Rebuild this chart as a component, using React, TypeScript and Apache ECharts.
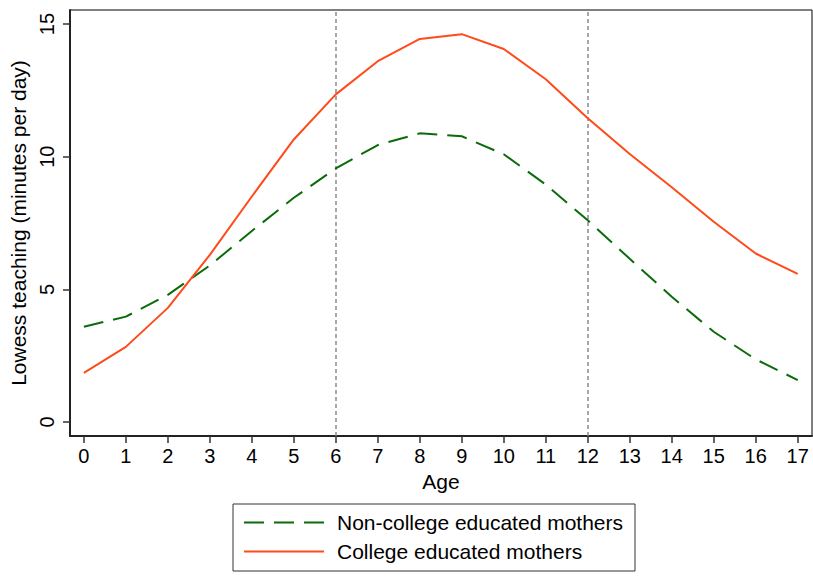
import React, { useEffect, useRef } from "react";
import * as echarts from "echarts";

const ages = [0, 1, 2, 3, 4, 5, 6, 7, 8, 9, 10, 11, 12, 13, 14, 15, 16, 17];
const nonCollege = [3.59, 3.97, 4.79, 5.9, 7.2, 8.45, 9.56, 10.44, 10.88, 10.77, 10.09, 8.95, 7.6, 6.15, 4.72, 3.4, 2.36, 1.58];
const college = [1.85, 2.83, 4.3, 6.3, 8.5, 10.65, 12.35, 13.6, 14.44, 14.62, 14.06, 12.92, 11.45, 10.1, 8.85, 7.55, 6.35, 5.58];
const yTicks = [0, 5, 10, 15];
const refLines = [6, 12];
const seriesNames = ["Non-college educated mothers", "College educated mothers"];

const FONT = "'Liberation Sans', Arial, Helvetica, sans-serif";

export default function App() {
  const ref = useRef<HTMLDivElement>(null);
  useEffect(() => {
    if (!ref.current) return;
    const chart = echarts.init(ref.current, undefined, { renderer: "svg" });
    const option = {
      animation: false,
      backgroundColor: "#ffffff",
      textStyle: { fontFamily: FONT },
      grid: {
        left: 70,
        right: 1,
        top: 10,
        bottom: 141,
        show: true,
        borderColor: "#000",
        borderWidth: 1,
        backgroundColor: "transparent",
      },
      xAxis: {
        type: "value",
        min: -0.33,
        max: 17.34,
        name: "Age",
        nameLocation: "middle",
        nameGap: 33,
        nameTextStyle: { fontSize: 21, color: "#000", fontFamily: FONT },
        axisLine: { show: true, onZero: false, lineStyle: { color: "#222", width: 2 } },
        axisTick: { show: true, length: 7, lineStyle: { color: "#333", width: 1.5 }, customValues: ages },
        axisLabel: { fontSize: 20, color: "#000", margin: 10, customValues: ages, fontFamily: FONT },
        splitLine: { show: false },
      },
      yAxis: {
        type: "value",
        min: -0.53,
        max: 15.53,
        name: "Lowess teaching (minutes per day)",
        nameLocation: "middle",
        nameGap: 36,
        nameTextStyle: { fontSize: 21, color: "#000", fontFamily: FONT },
        axisLine: { show: true, onZero: false, lineStyle: { color: "#222", width: 2 } },
        axisTick: { show: true, length: 7, lineStyle: { color: "#333", width: 1.5 }, customValues: yTicks },
        axisLabel: { fontSize: 20, color: "#000", margin: 13, rotate: 90, customValues: yTicks, fontFamily: FONT },
        splitLine: { show: false },
      },
      legend: {
        orient: "vertical",
        left: 233,
        top: 504,
        borderColor: "#333",
        borderWidth: 1,
        padding: [8, 12, 9, 10],
        itemGap: 8,
        itemWidth: 80,
        itemHeight: 14,
        itemStyle: { opacity: 0 },
        textStyle: { fontSize: 21, color: "#000", fontFamily: FONT, padding: [0, 0, 0, 8] },
        data: seriesNames,
      },
      series: [
        {
          name: seriesNames[0],
          type: "line",
          symbol: "none",
          data: ages.map((a, i) => [a, nonCollege[i]]),
          lineStyle: { color: "#0b6b0b", width: 2, type: [20, 10] },
          itemStyle: { color: "#0b6b0b" },
          z: 3,
          markLine: {
            silent: true,
            symbol: "none",
            label: { show: false },
            lineStyle: { color: "#8a8a8a", width: 1.5, type: [4, 3] },
            data: refLines.map((v) => ({ xAxis: v })),
            z: 1,
          },
        },
        {
          name: seriesNames[1],
          type: "line",
          symbol: "none",
          data: ages.map((a, i) => [a, college[i]]),
          lineStyle: { color: "#ff4a1a", width: 2, type: "solid" },
          itemStyle: { color: "#ff4a1a" },
          z: 4,
        },
      ],
    };
    chart.setOption(option as any);
    return () => chart.dispose();
  }, []);
  return (
    <div
      ref={ref}
      style={{ position: "fixed", left: 0, top: 0, width: 813, height: 577 }}
    />
  );
}
